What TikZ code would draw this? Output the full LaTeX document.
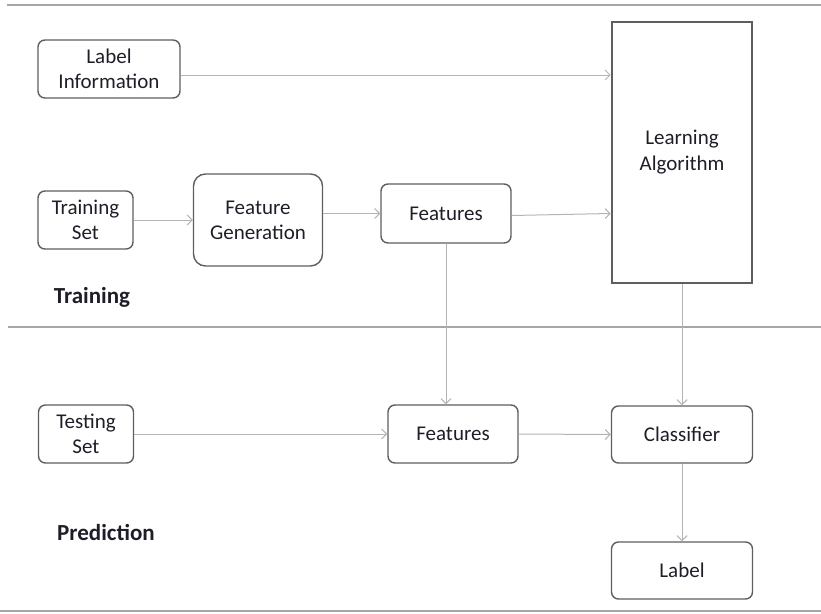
\documentclass[tikz,border=0pt]{standalone}
\usepackage{fontspec}
\setmainfont{Carlito}
\usetikzlibrary{arrows.meta}
\definecolor{boxc}{HTML}{5E5E5E}
\definecolor{arrc}{HTML}{B4B4B4}
\definecolor{sepc}{HTML}{A6A6A6}
\definecolor{txtc}{HTML}{1E1E28}
\begin{document}
\begin{tikzpicture}[x=1pt,y=-1pt,
  box/.style={draw=boxc, line width=1.4pt, rounded corners=7pt, align=center,
    font=\fontsize{21}{25}\selectfont, text=txtc, inner sep=0pt},
  bigbox/.style={draw=boxc, line width=2.6pt, align=center,
    font=\fontsize{21}{26}\selectfont, text=txtc, inner sep=0pt},
  arr/.style={draw=arrc, line width=1pt, -{Straight Barb[length=5pt,width=10pt]}},
  sep/.style={draw=sepc, line width=1.4pt},
  sec/.style={font=\bfseries\fontsize{23}{27}\selectfont, text=txtc}]
\useasboundingbox (0,0) rectangle (821,613);
\draw[sep] (7,5) -- (821,5);
\draw[sep] (8,327) -- (821,327);
\draw[sep] (0,611) -- (821,611);

\node[box, minimum width=142pt, minimum height=58pt] (li) at (109,69) {Label\\Information};
\node[bigbox, minimum width=140pt, minimum height=261pt] (la) at (682,152.5) {Learning\\Algorithm};
\node[box, minimum width=95pt, minimum height=58pt] (ts) at (85.5,220) {Training\\Set};
\node[box, rounded corners=12pt, minimum width=129pt, minimum height=92pt] (fg) at (258,220) {Feature\\Generation};
\node[box, minimum width=130pt, minimum height=59pt] (f1) at (446,213.5) {Features};
\node[sec] (tr) at (92,297) {Training};

\node[box, minimum width=95pt, minimum height=58pt] (te) at (86,434) {Testing\\Set};
\node[box, minimum width=130pt, minimum height=58pt] (f2) at (453,434) {Features};
\node[box, minimum width=141pt, minimum height=57pt] (cl) at (682,434.5) {Classifier};
\node[box, minimum width=141pt, minimum height=57pt] (lb) at (682,570.5) {Label};
\node[sec] (pr) at (106,532) {Prediction};

\draw[arr] ([yshift=-6pt]li.east) -- ([yshift=-6pt]li.east -| la.west);
\draw[arr] (ts.east) -- (ts.east -| fg.west);
\draw[arr] (fg.east |- f1.west) -- (f1.west);
\draw[arr] ([yshift=-2pt]f1.east) -- (f1.east -| la.west);
\draw[arr] (f1.south) -- (f1.south |- f2.north);
\draw[arr] (te.east) -- (f2.west);
\draw[arr] (f2.east) -- (cl.west);
\draw[arr] (la.south) -- (cl.north);
\draw[arr] (cl.south) -- (lb.north);
\end{tikzpicture}
\end{document}
